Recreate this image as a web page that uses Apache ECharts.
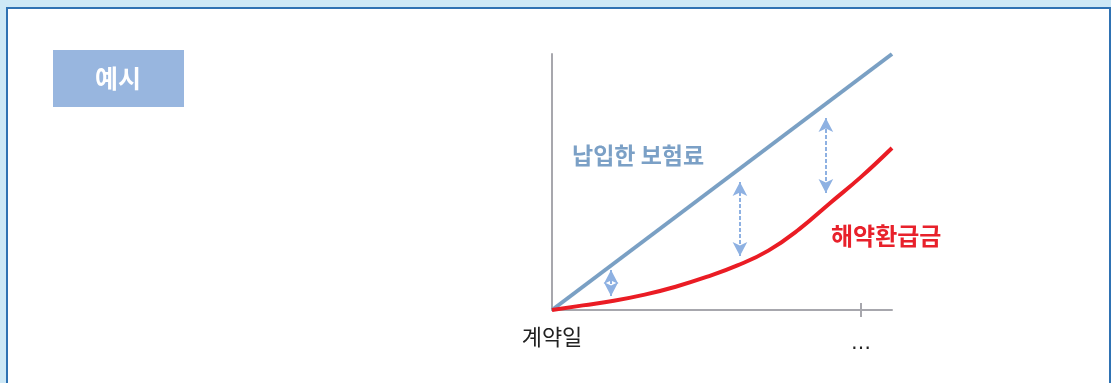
<!DOCTYPE html>
<html><head><meta charset="utf-8">
<script src="https://cdn.jsdelivr.net/npm/echarts@6/dist/echarts.min.js"></script>
<style>html,body{margin:0;padding:0;background:#cde8f6;}#c{width:1111px;height:383px;}</style>
</head><body><div id="c"></div>
<script>
// data
const xValues = [0,1,2,3,4,5,6,7,8,9,10,11];
const premiumPaid = [[0,0],[11,100]];
const surrenderValue = [0,1.8,3.6,6.0,9.1,12.9,17.4,23.2,31.6,41.8,52.0,63.3];
const arrows = [ // [x, yFrom, yTo]
  [1.91, 5.5, 15.6],
  [6.08, 21.1, 50.0],
  [8.86, 45.7, 75.0]
];
const xLabelValues = [0, 10];
const xLabels = {0:'계약일', 10:'…'};
const premiumLabel = '납입한 보험료';
const surrenderLabel = '해약환급금';
const badgeText = '예시';

const font = '"Noto Sans CJK KR","Noto Sans",sans-serif';
const chart = echarts.init(document.getElementById('c'), null, {renderer:'canvas'});
const axisColor = '#a7a7ad';
chart.setOption({
  animation:false,
  backgroundColor:'#cde8f6',
  textStyle:{fontFamily:font},
  graphic:[
    {type:'rect', z:-10, shape:{x:7,y:8,width:1103,height:400}, style:{fill:'#ffffff', stroke:'#2f72b3', lineWidth:2}},
    {type:'rect', shape:{x:53,y:50,width:131,height:57}, style:{fill:'#98b6df'}},
    {type:'text', x:118, y:78, style:{text:badgeText, fill:'#ffffff', font:'bold 25px '+font, align:'center', verticalAlign:'middle'}},
    {type:'text', x:572, y:155, style:{text:premiumLabel, fill:'#7ba0c6', font:'bold 23px '+font, align:'left', verticalAlign:'middle'}},
    {type:'text', x:831, y:236, style:{text:surrenderLabel, fill:'#e8212b', font:'bold 24px '+font, align:'left', verticalAlign:'middle'}}
  ],
  grid:{left:552, right:219, top:54, bottom:73},
  xAxis:[{
    type:'value', min:0, max:11, interval:1,
    axisLine:{lineStyle:{color:axisColor, width:2}},
    axisTick:{show:true, customValues:[10], length:7, lineStyle:{color:axisColor, width:2}},
    axisLabel:{show:true, customValues:xLabelValues,
      formatter:v=>v===0?'{a|'+xLabels[v]+'}':'{b|'+(xLabels[v]||'')+'}',
      rich:{a:{color:'#222', fontSize:22, fontFamily:font, padding:[2,0,0,0]},
            b:{color:'#222', fontSize:20, fontFamily:'DejaVu Sans', padding:[10,0,0,0]}},
      margin:14},
    splitLine:{show:false}
  },{
    type:'value', min:0, max:11, interval:1, position:'bottom',
    axisLine:{show:false},
    axisTick:{show:true, inside:true, customValues:[10], length:7, lineStyle:{color:axisColor, width:2}},
    axisLabel:{show:false}, splitLine:{show:false}
  }],
  yAxis:{
    type:'value', min:0, max:100,
    axisLine:{show:true, lineStyle:{color:axisColor, width:2}},
    axisTick:{show:false}, axisLabel:{show:false}, splitLine:{show:false}
  },
  series:[
    {type:'line', data:premiumPaid, symbol:'none', lineStyle:{color:'#7aa0c4', width:4}, z:3,
     markLine:{silent:true, symbol:['arrow','arrow'], symbolSize:[11,14],
       lineStyle:{color:'#8eb1e2', width:2, type:[4,2]}, label:{show:false},
       data:arrows.map(a=>[{coord:[a[0],a[1]]},{coord:[a[0],a[2]]}])}},
    {type:'line', data:xValues.map((x,i)=>[x,surrenderValue[i]]), symbol:'none', smooth:0.45,
     lineStyle:{color:'#ea1c24', width:4}, z:4}
  ]
});
</script></body></html>
